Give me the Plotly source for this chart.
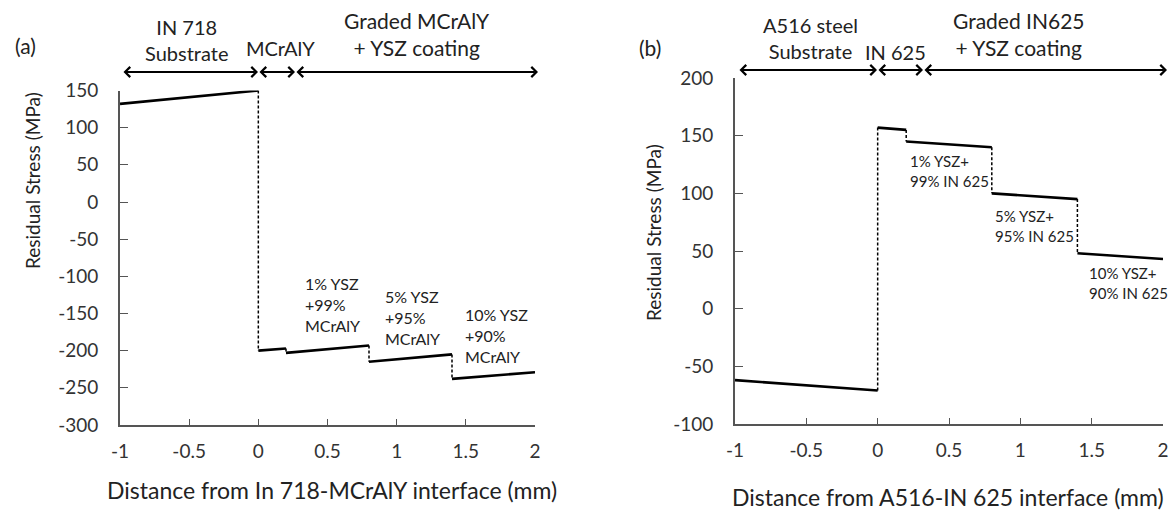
import plotly.graph_objects as go

W, H = 1172, 512
FONT = "Lato"

# ---------------- data ----------------
tick_x = [-1, -0.5, 0, 0.5, 1, 1.5, 2]
tick_x_text = ["-1", "-0.5", "0", "0.5", "1", "1.5", "2"]

# panel (a)
a_x_start = [-1, 0, 0.2, 0.8, 1.4]
a_x_end = [0, 0.2, 0.8, 1.4, 2]
a_y_start = [132, -200, -203, -215, -238]
a_y_end = [150, -197, -193, -205, -229]
a_yticks = [150, 100, 50, 0, -50, -100, -150, -200, -250, -300]
a_ytick_text = ["150", "100", "50", "0", "-50", "-100", "-150", "-200", "-250", "-300"]

# panel (b)
b_x_start = [-1, 0, 0.2, 0.8, 1.4]
b_x_end = [0, 0.2, 0.8, 1.4, 2]
b_y_start = [-62, 157, 145, 100, 48]
b_y_end = [-71, 155, 140, 95, 43]
b_yticks = [200, 150, 100, 50, 0, -50, -100]
b_ytick_text = ["200", "150", "100", "50", "0", "-50", "-100"]

a_labels = ["1% YSZ<br>+99%<br>MCrAlY", "5% YSZ<br>+95%<br>MCrAlY", "10% YSZ<br>+90%<br>MCrAlY"]
a_lab_x = [0.32, 0.9, 1.48]
a_lab_y = [-138, -155, -180]
b_labels = ["1% YSZ+<br>99% IN 625", "5% YSZ+<br>95% IN 625", "10% YSZ+<br>90% IN 625"]
b_lab_x = [0.21, 0.805, 1.47]
b_lab_y = [119, 72, 22]

fig = go.Figure()


def add_panel(xs, xe, ys, ye, xa, ya):
    # solid segments
    for i in range(len(xs)):
        fig.add_trace(go.Scatter(x=[xs[i], xe[i]], y=[ys[i], ye[i]], mode="lines",
                                 line=dict(color="black", width=2.6),
                                 xaxis=xa, yaxis=ya, showlegend=False, hoverinfo="skip"))
    # dotted connectors
    for i in range(len(xs) - 1):
        fig.add_trace(go.Scatter(x=[xe[i], xs[i + 1]], y=[ye[i], ys[i + 1]], mode="lines",
                                 line=dict(color="black", width=1.5, dash="3px,2px"),
                                 xaxis=xa, yaxis=ya, showlegend=False, hoverinfo="skip"))


add_panel(a_x_start, a_x_end, a_y_start, a_y_end, "x", "y")
add_panel(b_x_start, b_x_end, b_y_start, b_y_end, "x2", "y2")


def px(v):
    return v / W


def py(v):
    return 1 - v / H


axis_common = dict(showline=True, linecolor="#555555", linewidth=1.6, showgrid=False,
                   zeroline=False, ticks="inside", tickcolor="#555555", tickwidth=1.3,
                   automargin=False,
                   tickfont=dict(family=FONT, size=19, color="#333333"))

fig.update_layout(
    width=W, height=H, margin=dict(l=0, r=0, t=0, b=0, autoexpand=False),
    paper_bgcolor="white", plot_bgcolor="white", showlegend=False,
    font=dict(family=FONT, color="#222222"),
    xaxis=dict(domain=[px(120), px(535)], range=[-1, 2], tickvals=tick_x, ticktext=tick_x_text,
               ticklen=6, ticklabelstandoff=8, anchor="y", **axis_common),
    yaxis=dict(domain=[py(425), py(90.5)], range=[-300, 150], tickvals=a_yticks,
               ticktext=a_ytick_text,
               ticklen=8, ticklabelstandoff=16, anchor="x", **axis_common),
    xaxis2=dict(domain=[px(735), px(1163)], range=[-1, 2], tickvals=tick_x, ticktext=tick_x_text,
                ticklen=6, ticklabelstandoff=8, anchor="y2", **axis_common),
    yaxis2=dict(domain=[py(424), py(78)], range=[-100, 200], tickvals=b_yticks,
                ticktext=b_ytick_text,
                ticklen=8, ticklabelstandoff=16, anchor="x2", **axis_common),
)

ann = []


def text(x, y, s, size=19, xanchor="center", color="#222222", angle=0):
    ann.append(dict(x=px(x), y=py(y), xref="paper", yref="paper", text=s, showarrow=False,
                    xanchor=xanchor, yanchor="middle", textangle=angle,
                    font=dict(family=FONT, size=size, color=color)))


# panel labels
text(25, 45, "(a)", size=21)
text(650, 47, "(b)", size=21)

# region labels (a)
text(187, 40, "IN 718<br>Substrate", size=20)
text(280, 48, "MCrAlY", size=20)
text(417, 34, "Graded MCrAlY<br>+ YSZ coating", size=21)
# region labels (b)
text(810, 38, "A516 steel<br>Substrate", size=20)
text(895, 52, "IN 625", size=20)
text(1019, 34, "Graded IN625<br>+ YSZ coating", size=21)

# axis titles
text(332, 490, "Distance from In 718-MCrAlY interface (mm)", size=23)
text(948, 497, "Distance from A516-IN 625 interface (mm)", size=23)
text(32, 181, "Residual Stress (MPa)", size=19, angle=-90)
text(653, 233, "Residual Stress (MPa)", size=19, angle=-90)

# inner annotations (data referenced)
for s, x, y in zip(a_labels, a_lab_x, a_lab_y):
    ann.append(dict(x=x, y=y, xref="x", yref="y", text=s, showarrow=False, xanchor="left",
                    yanchor="middle", align="left", font=dict(family=FONT, size=16, color="#222222")))
for s, x, y in zip(b_labels, b_lab_x, b_lab_y):
    ann.append(dict(x=x, y=y, xref="x2", yref="y2", text=s, showarrow=False, xanchor="left",
                    yanchor="middle", align="left", font=dict(family=FONT, size=15, color="#222222")))


# double-headed arrows (paper coords, pixel tail offset)
def arrow(x0, x1, y):
    ann.append(dict(x=px(x1), y=py(y), xref="paper", yref="paper", ax=-(x1 - x0), ay=0,
                    axref="pixel", ayref="pixel", text="", showarrow=True,
                    arrowhead=4, startarrowhead=4, arrowside="end+start",
                    arrowwidth=1.8, arrowsize=1.1, startarrowsize=1.1, arrowcolor="black"))


arrow(122, 258, 72)
arrow(258, 295, 72)
arrow(295, 538, 72)
arrow(738, 877, 70)
arrow(877, 923, 70)
arrow(923, 1167, 70)

fig.update_layout(annotations=ann)
fig.write_html("out.html")
